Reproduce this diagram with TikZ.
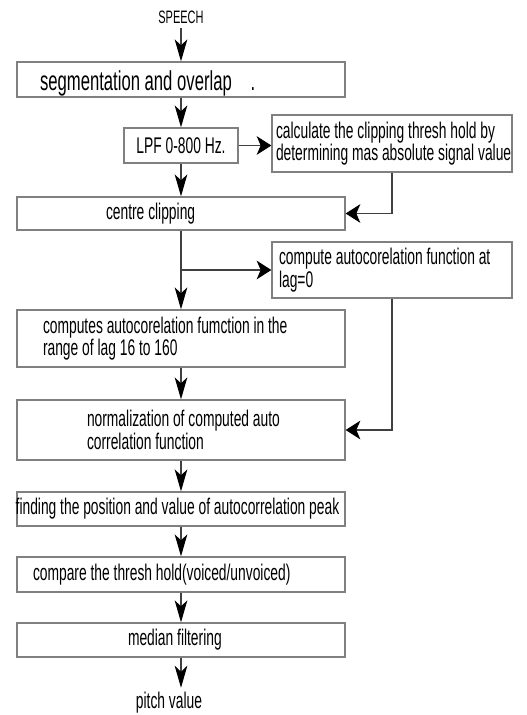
\documentclass[tikz,border=0pt]{standalone}
\usepackage{fontspec}
\setmainfont{Liberation Sans}[FakeStretch=0.61]
\usetikzlibrary{arrows.meta}
\tikzset{procbox/.style = {draw = black!50, line width = 1pt, inner xsep = 0, inner ysep = 0,
    text width = 246pt, align = flush left, minimum height = #1}}
\tikzset{lskip/.style = {execute at begin node = {\leftskip=#1\relax}}}
\tikzset{varr/.style = {draw = black!75, line width = 0.8pt,
    -{Stealth[length = 16.5pt, width = 9.5pt, inset = 4.5pt, color = black]}}}
\tikzset{harr/.style = {draw = black!75, line width = 0.8pt,
    -{Stealth[length = 11pt, width = 14pt, inset = 3pt, color = black]}}}
\newcommand{\boxfont}{\fontsize{17pt}{17pt}\selectfont}

\begin{document}
\begin{tikzpicture}[x = 0.75pt, y = -0.75pt, font = \boxfont]
      \useasboundingbox (0, 0) rectangle (526, 715);

      \node (speech) at (181, 17) {\fontsize{13.5pt}{13.5pt}\selectfont SPEECH};
      \node [procbox = 26.25pt, lskip = 17.25pt, text height = 20pt, text depth = 4pt,
        font = \fontsize{20.5pt}{20.5pt}\selectfont] (seg) at (181, 79.5)
        {segmentation and overlap\hspace{14pt}.};
      \node [procbox = 26.25pt, text width = 85.5pt, align = flush center] (lpf) at (181, 145.5) {LPF 0-800 Hz.};
      \node [procbox = 42.75pt, text width = 180pt, lskip = 3pt] (calc) at (392, 143.5)
        {\mbox{calculate the clipping thresh hold by}\\ \mbox{determining mas absolute signal value}};
      \node [procbox = 24.75pt, lskip = 66.75pt] (centre) at (181, 213.5) {centre clipping};
      \node [procbox = 42pt, text width = 180pt, lskip = 5.25pt] (compute) at (392, 270)
        {compute autocorelation function at\\ lag=0};
      \node [procbox = 42.75pt, lskip = 19.5pt] (computes) at (181, 338.5)
        {computes autocorelation fumction in the\\ range of lag 16 to 160};
      \node [procbox = 45pt, lskip = 52.5pt] (norm) at (181, 430)
        {normalization of computed auto\\ correlation function};
      \node [procbox = 25.5pt, lskip = -1pt] (finding) at (181, 509)
        {\mbox{finding the position and value of autocorrelation peak}};
      \node [procbox = 26.25pt, lskip = 12pt] (compare) at (181, 574.5)
        {compare the thresh hold(voiced/unvoiced)};
      \node [procbox = 25.5pt, lskip = 83.25pt] (median) at (181, 640) {median filtering};
      \node (pitch) at (169, 703) {pitch value};

      \foreach \a/\b in {speech/seg, seg/lpf, lpf/centre, centre/computes,
        computes/norm, norm/finding, finding/compare, compare/median} {
        \draw [varr] (\a) -- (\b);
      }
      \draw [varr] (median) -- (median |- pitch.north);

      \draw [harr] (lpf) -- (lpf -| calc.west);
      \draw [harr] (calc.south) |- (centre);
      \coordinate (split) at (centre |- compute);
      \draw [harr] (split) -- (compute);
      \draw [harr] (compute.south) |- (norm);
    \end{tikzpicture}
\end{document}
